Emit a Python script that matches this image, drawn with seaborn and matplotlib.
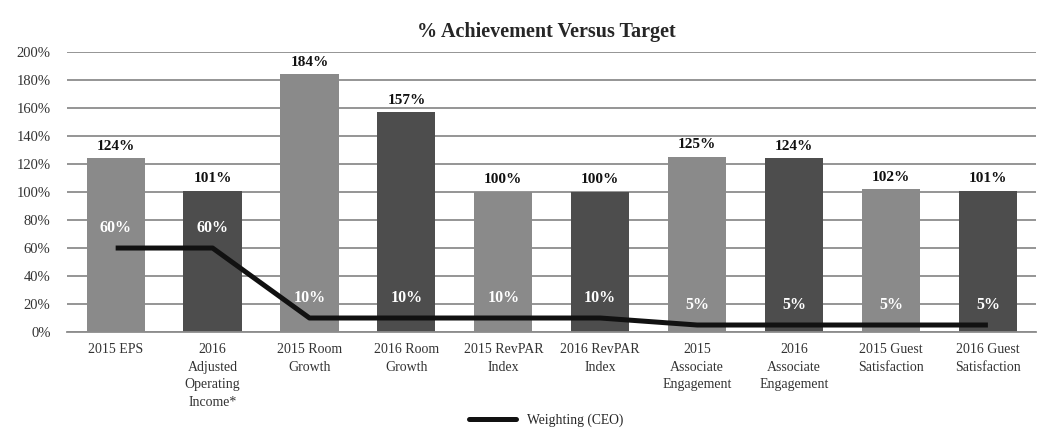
import numpy as np
import pandas as pd
import matplotlib
matplotlib.use("Agg")
import matplotlib.pyplot as plt
import seaborn as sns
from matplotlib.lines import Line2D

categories = ["2015 EPS", "2016\nAdjusted\nOperating\nIncome*", "2015 Room\nGrowth",
              "2016 Room\nGrowth", "2015 RevPAR\nIndex", "2016 RevPAR\nIndex",
              "2015\nAssociate\nEngagement", "2016\nAssociate\nEngagement",
              "2015 Guest\nSatisfaction", "2016 Guest\nSatisfaction"]
achievement = [124, 101, 184, 157, 100, 100, 125, 124, 102, 101]
weighting = [60, 60, 10, 10, 10, 10, 5, 5, 5, 5]
bar_colors = ["#8a8a8a", "#4d4d4d"] * 5

sns.set_style("white")
plt.rcParams["font.family"] = ["Liberation Serif", "DejaVu Serif"]

df = pd.DataFrame({"Metric": categories, "Achievement": achievement, "Weighting": weighting})

fig = plt.figure(figsize=(10.5, 4.34), dpi=100)
ax = fig.add_axes([0.064, 0.235, 0.923, 0.645])

sns.barplot(data=df, x="Metric", y="Achievement", hue="Metric", palette=bar_colors,
            width=0.6, legend=False, ax=ax, zorder=2, linewidth=0)
ax.plot(range(len(categories)), df["Weighting"], color="#111111", lw=3.6,
        solid_capstyle="butt", zorder=4)

for i, (a, w) in enumerate(zip(achievement, weighting)):
    ax.annotate(f"{a}%", (i, a), xytext=(0, 4), textcoords="offset points",
                ha="center", va="bottom", fontsize=11, fontweight="bold", color="#111111")
    ax.annotate(f"{w}%", (i, w), xytext=(0, 9), textcoords="offset points",
                ha="center", va="bottom", fontsize=11.5, fontweight="bold", color="white", zorder=5)

ax.set_ylim(0, 200)
ax.set_xlim(-0.5, len(categories) - 0.5)
ax.set_yticks(np.arange(0, 201, 20))
ax.set_yticklabels([f"{v}%" for v in range(0, 201, 20)], fontsize=10.5, color="#333333")
ax.tick_params(axis="x", labelsize=10, colors="#333333", length=0, pad=8)
ax.tick_params(axis="y", length=0, pad=12)
for lbl in ax.get_xticklabels():
    lbl.set_linespacing(1.45)
ax.yaxis.grid(True, color="#8c8c8c", lw=1.3, zorder=0)
ax.set_axisbelow(True)
for s in ["top", "right", "left"]:
    ax.spines[s].set_visible(False)
ax.spines["bottom"].set_color("#8c8c8c")
ax.spines["bottom"].set_linewidth(1.3)
ax.set_xlabel("")
ax.set_ylabel("")

fig.suptitle("% Achievement Versus Target", x=0.52, y=0.95, fontsize=14.5, fontweight="bold")

handle = Line2D([0], [0], color="#111111", lw=3.6)
fig.legend([handle], ["Weighting (CEO)"], loc="lower center", bbox_to_anchor=(0.52, -0.012),
           frameon=False, fontsize=9.8, handlelength=3.5)

fig.savefig("out.png", dpi=100)
